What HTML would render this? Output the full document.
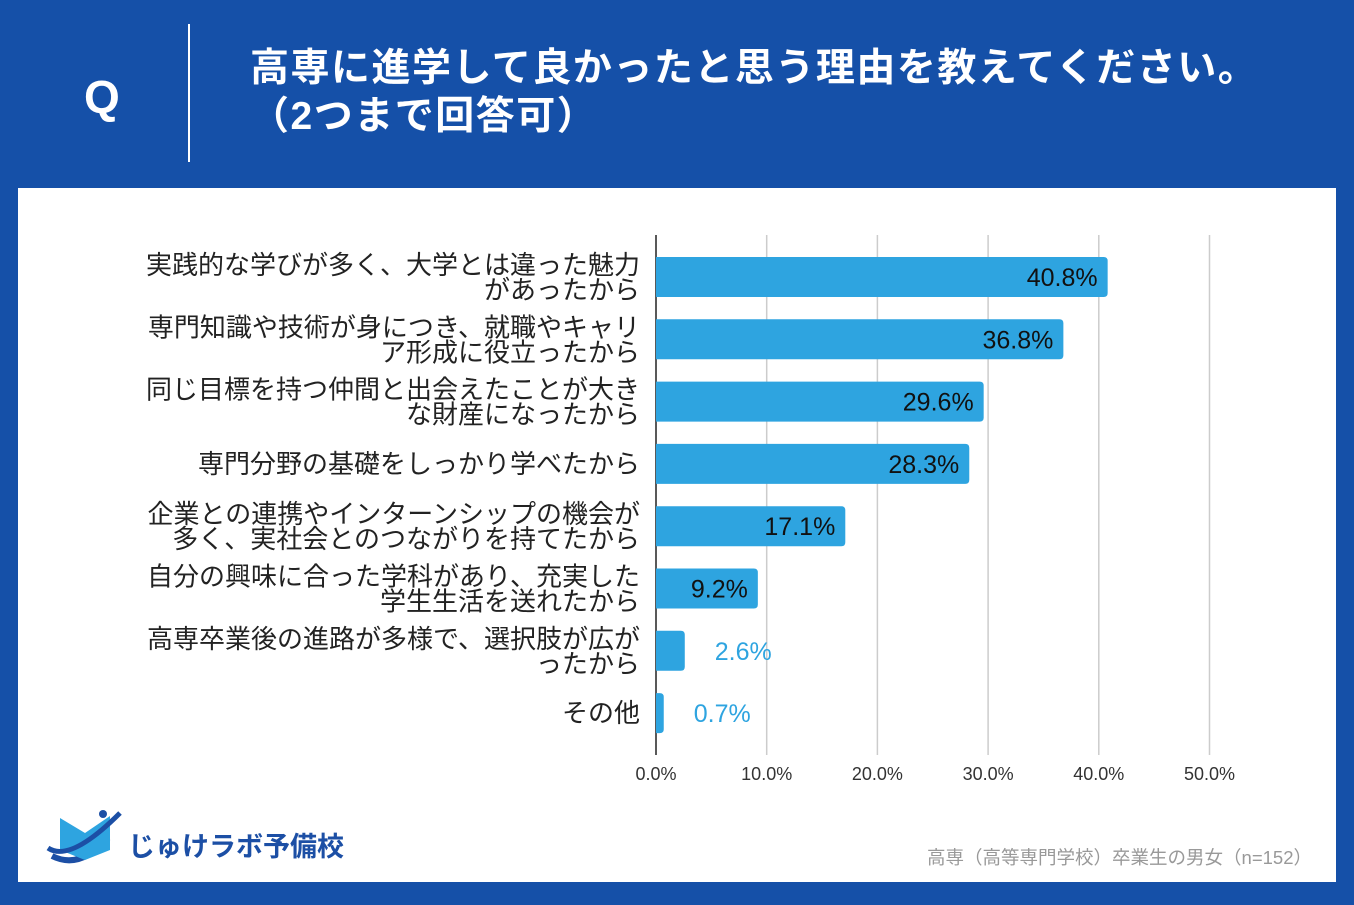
<!DOCTYPE html>
<html><head><meta charset="utf-8">
<style>
body{margin:0;width:1354px;height:905px;background:#1550a8;font-family:"Liberation Sans","Noto Sans CJK JP",sans-serif;position:relative;overflow:hidden}
.abs{position:absolute}
</style></head><body>
<div class="abs" style="left:84px;top:70px;color:#fff;font-size:46px;font-weight:bold;">Q</div>
<div class="abs" style="left:188px;top:24px;width:2px;height:138px;background:#fff"></div>
<div class="abs" style="left:250px;top:45px;color:#fff;font-size:39px;letter-spacing:1.5px;font-weight:bold;line-height:48px;white-space:nowrap">高専に進学して良かったと思う理由を教えてください。<br>（2つまで回答可）</div>
<div class="abs" style="left:18px;top:188px;width:1318px;height:694px;background:#fff"></div>
<svg class="abs" style="left:0;top:0" width="1354" height="905">
<g id="grid"></g><g id="bars"></g><g id="labels"></g>
</svg>
<div class="abs" style="left:40px;top:808px;width:320px;height:60px">
<svg width="90" height="60" style="position:absolute;left:0;top:0">
<path d="M12 48 Q40 62 68 30" stroke="#1c4fa5" stroke-width="6" fill="none"/>
<path d="M20 10 L45 25 L70 8 L70 42 L45 52 L20 42Z" fill="#2ea4e0"/>
<path d="M8 40 Q30 55 80 5" stroke="#1c4fa5" stroke-width="5" fill="none"/>
<circle cx="63" cy="6" r="4" fill="#1c4fa5"/>
</svg>
<div class="abs" style="left:88px;top:17px;font-size:27px;font-weight:bold;color:#1c4fa5;white-space:nowrap">じゅけラボ予備校</div>
</div>
<div class="abs" style="right:42px;top:844px;font-size:18.5px;color:#999;white-space:nowrap">高専（高等専門学校）卒業生の男女（n=152）</div>
<script>
const categories=[["実践的な学びが多く、大学とは違った魅力","があったから"],["専門知識や技術が身につき、就職やキャリ","ア形成に役立ったから"],["同じ目標を持つ仲間と出会えたことが大き","な財産になったから"],["専門分野の基礎をしっかり学べたから"],["企業との連携やインターンシップの機会が","多く、実社会とのつながりを持てたから"],["自分の興味に合った学科があり、充実した","学生生活を送れたから"],["高専卒業後の進路が多様で、選択肢が広が","ったから"],["その他"]];
const values=[40.8,36.8,29.6,28.3,17.1,9.2,2.6,0.7];
const ticks=[0,10,20,30,40,50];
const NS="http://www.w3.org/2000/svg";
const x=v=>656+v*11.07;
const yc=i=>277+i*62.3;
function mk(t,a,p,txt){const e=document.createElementNS(NS,t);for(const k in a)e.setAttribute(k,a[k]);if(txt!==undefined)e.textContent=txt;document.getElementById(p).appendChild(e);return e;}
ticks.forEach(t=>{
 if(t>0){const l=mk('line',{x1:x(t),x2:x(t),y1:235,y2:755,stroke:'#ccc','stroke-width':1.5},'grid');
 }
 const tl=mk('text',{x:x(t),y:780,'text-anchor':'middle','font-size':18,fill:'#333'},'labels',t.toFixed(1)+'%');
 
});
const ax=mk('line',{x1:656,x2:656,y1:235,y2:755,stroke:'#222','stroke-width':1.5},'grid');

values.forEach((v,i)=>{
 const w=x(v)-656,y=yc(i);
 const r=Math.min(4,w/2);
 const b=mk('path',{d:`M656 ${y-20} H${656+w-r} Q${656+w} ${y-20} ${656+w} ${y-20+r} V${y+20-r} Q${656+w} ${y+20} ${656+w-r} ${y+20} H656Z`,fill:'#2ea4e0'},'bars');
 
 const inside=v>5;
 const t=mk('text',{x:inside?x(v)-10:x(v)+30,y:y+9,'text-anchor':inside?'end':'start','font-size':25,fill:inside?'#111':'#2ea4e0'},'labels',v.toFixed(1)+'%');
 
 const lines=categories[i];
 lines.forEach((s,j)=>{
  const cy=y+9+(lines.length===2?(j===0?-12:13):0);
  const c=mk('text',{x:640,y:cy,'text-anchor':'end','font-size':26,fill:'#222'},'labels',s);
  
 });
});
</script>
</body></html>
